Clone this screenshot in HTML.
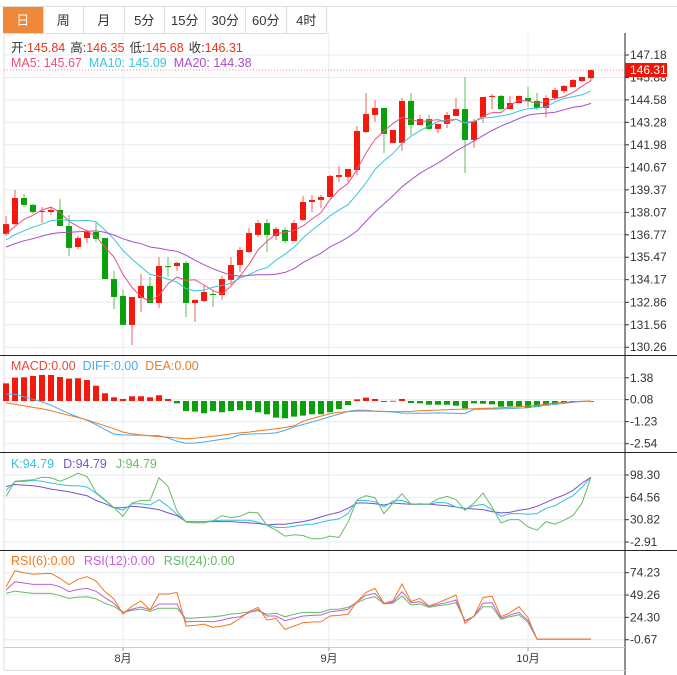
<!DOCTYPE html>
<html><head><meta charset="utf-8"><style>
body{margin:0;background:#fff;font-family:"Liberation Sans","Noto Sans CJK SC",sans-serif;}
#wrap{position:relative;width:677px;height:675px;overflow:hidden;background:#fff}
.tabs{position:absolute;left:3px;top:6px;height:27px;display:flex;border-top:1px solid #ddd;}
.tab{width:40px;height:27px;line-height:27px;text-align:center;font-size:13px;color:#333;border-right:1px solid #ddd;border-bottom:1px solid #ddd;box-sizing:border-box;width:40.5px}
.tab.on{background:#f0883a;color:#fff}
svg{position:absolute;left:0;top:0}
</style></head><body>
<div id="wrap">
<div style="position:absolute;left:0;top:6px;width:677px;border-top:1px solid #e2e2e2"></div>
<div class="tabs">
<div class="tab on">日</div>
<div class="tab">周</div>
<div class="tab">月</div>
<div class="tab">5分</div>
<div class="tab">15分</div>
<div class="tab">30分</div>
<div class="tab">60分</div>
<div class="tab">4时</div>
</div>
<svg id="chart" width="677" height="675"></svg>
</div>
<script>
const opens=[136.82,137.39,138.90,138.50,138.09,138.09,138.21,137.28,136.06,136.58,136.93,136.58,134.21,133.23,131.55,133.11,133.81,132.82,134.96,134.96,135.14,132.82,132.94,133.34,133.28,134.16,135.02,135.77,136.76,137.45,136.70,137.05,136.41,137.63,138.67,138.79,138.96,140.12,140.12,140.52,142.72,143.71,144.11,142.09,142.09,144.52,143.13,143.47,142.90,143.19,143.65,144.05,142.26,143.59,144.75,144.81,144.05,144.40,144.69,144.52,144.11,144.69,145.10,145.33,145.67,145.84];
const closes=[137.39,138.90,138.50,138.09,138.15,138.21,137.28,136.01,136.58,136.93,136.53,134.21,133.17,131.55,133.17,133.81,132.82,134.96,134.90,135.14,132.82,133.00,133.46,133.28,134.21,135.02,135.89,136.87,137.45,136.76,137.11,136.41,137.45,138.67,138.79,138.96,140.17,140.23,140.58,142.78,143.76,144.11,142.61,142.84,144.52,143.13,143.47,142.90,143.19,143.71,144.05,142.26,143.36,144.75,144.81,144.05,144.40,144.81,144.52,144.11,144.69,145.15,145.39,145.73,145.91,146.31];
const highs=[137.86,139.36,139.13,138.55,138.38,138.38,138.84,137.92,136.70,137.05,137.45,136.58,134.67,133.57,133.17,134.50,134.33,135.48,135.48,135.19,135.25,133.00,133.85,133.57,134.40,135.48,136.06,137.16,137.63,137.68,137.22,137.22,137.63,139.02,139.07,139.07,140.23,140.75,140.58,143.07,144.98,144.57,144.11,142.84,144.69,144.98,143.71,143.71,143.19,143.88,144.69,145.91,143.47,144.75,144.92,144.86,144.81,144.81,145.33,144.98,144.86,145.27,145.44,145.79,145.91,146.35];
const lows=[136.70,137.34,138.38,137.97,137.45,137.92,137.28,135.54,135.95,136.29,136.35,134.21,132.47,131.55,130.39,132.30,132.82,132.53,134.33,134.67,132.01,131.72,132.88,132.59,133.00,133.85,134.61,135.72,136.64,135.77,136.47,136.29,136.41,137.57,138.09,138.32,138.96,139.83,139.83,140.23,142.66,143.30,141.51,142.09,141.62,142.55,143.13,142.84,142.66,142.95,143.65,140.35,141.80,143.24,144.05,143.99,144.05,144.40,144.17,143.99,143.59,144.57,144.98,145.33,145.62,145.68];
const preCloses=[135.0,135.3,135.6,135.2,135.5,135.9,135.6,136.0,136.4,136.1,135.8,136.3,136.0,136.4,136.2,136.6,136.5,136.9,136.6];
const priceTicks=[147.18,145.88,144.58,143.28,141.98,140.67,139.37,138.07,136.77,135.47,134.17,132.86,131.56,130.26];
const macdHist=[1.05,1.39,1.41,1.49,1.55,1.55,1.43,1.33,1.35,1.25,0.91,0.46,0.22,0.12,0.28,0.28,0.22,0.34,0.12,-0.14,-0.6,-0.63,-0.73,-0.6,-0.67,-0.6,-0.54,-0.54,-0.67,-0.79,-0.99,-1.03,-0.93,-0.87,-0.79,-0.79,-0.67,-0.48,-0.24,0.1,0.2,0.12,-0.06,0.01,0.12,-0.12,-0.14,-0.22,-0.22,-0.22,-0.28,-0.44,-0.14,-0.16,-0.2,-0.34,-0.32,-0.32,-0.4,-0.36,-0.28,-0.2,-0.12,-0.04,-0.02,0];
const diffVals=[0.40,0.40,0.25,0.10,-0.06,-0.25,-0.50,-0.75,-0.95,-1.15,-1.40,-1.70,-1.97,-2.02,-2.03,-2.04,-2.06,-2.06,-2.20,-2.40,-2.52,-2.50,-2.44,-2.36,-2.28,-2.20,-2.00,-1.97,-1.95,-1.94,-1.90,-1.75,-1.55,-1.40,-1.25,-1.10,-0.93,-0.78,-0.62,-0.54,-0.55,-0.60,-0.63,-0.65,-0.72,-0.73,-0.73,-0.72,-0.71,-0.72,-0.74,-0.75,-0.50,-0.48,-0.48,-0.47,-0.45,-0.42,-0.40,-0.33,-0.25,-0.20,-0.14,-0.08,-0.03,0.00];
const deaVals=[-0.10,-0.20,-0.28,-0.38,-0.46,-0.58,-0.72,-0.85,-0.98,-1.12,-1.30,-1.48,-1.65,-1.85,-1.95,-2.02,-2.08,-2.12,-2.15,-2.20,-2.25,-2.22,-2.16,-2.10,-2.03,-1.96,-1.90,-1.85,-1.78,-1.72,-1.65,-1.58,-1.48,-1.20,-1.05,-0.90,-0.75,-0.68,-0.63,-0.60,-0.60,-0.61,-0.62,-0.63,-0.63,-0.62,-0.58,-0.56,-0.54,-0.52,-0.50,-0.48,-0.46,-0.44,-0.42,-0.40,-0.37,-0.34,-0.30,-0.25,-0.19,-0.13,-0.08,-0.04,-0.01,0];
const macdTicks=[1.38,0.08,-1.23,-2.54];
const kVals=[75,88,89,90,89,86,84,82,82,80,71,60,49,45,55,55,53,61,51,39,28,28,28,29,30,30,30,30,27,23,19,19,21,23,24,27,30,32,40,60,60,58,50,59,60,55,54,54,57,56,50,47,52,54,46,36,40,40,39,40,48,52,60,67,80,95];
const dVals=[81,84,83,82,80,77,75,73,70,67,60,55,49,49,51,50,48,46,41,37,28,28,28,28,28,28,27,26,25,23,24,24,26,28,31,35,39,42,48,56,56,55,53,56,55,54,54,54,53,52,50,48,47,46,43,41,42,45,47,51,57,63,68,75,86,95];
const jVals=[66,89,90,91,95,94,89,94,101,96,72,61,49,36,56,60,60,94,81,44,27,26,26,29,37,34,36,42,41,22,15,6,8,7,2,2,6,4,27,61,67,64,40,56,70,54,55,54,62,66,61,45,56,71,50,26,31,31,20,15,28,24,30,37,56,95];
const kdjTicks=[98.30,64.56,30.82,-2.91];
const rsi6=[58.6,76.5,74.2,72.4,73.1,73.5,67.9,60.8,66.8,69.8,64.9,53.0,44.8,28.0,37.0,42.6,32.5,50.4,50.4,52.2,14.6,15.3,16.8,13.1,14.6,16.8,23.2,30.6,35.5,21.3,23.2,10.9,14.6,18.3,19.1,19.4,25.8,26.5,28.0,41.8,52.2,56.7,39.9,42.9,61.6,42.2,45.5,37.0,40.7,44.8,49.3,17.6,25.8,46.3,48.1,25.0,29.5,36.2,23.9,0,0,0,0,0,0,0];
const rsi12=[54.9,64.2,62.7,61.2,61.2,61.2,58.6,53.0,55.6,56.7,53.4,46.3,39.9,29.9,33.6,35.9,32.5,39.2,39.2,39.2,19.4,19.8,19.8,19.4,21.3,23.6,25.0,29.5,33.2,25.8,25.8,20.6,23.2,25.8,26.5,26.9,30.6,31.7,33.2,41.8,48.9,51.1,39.9,41.4,53.0,40.7,41.8,36.6,38.8,40.7,43.7,20.2,25.4,39.9,40.7,23.2,26.9,29.9,20.6,0,0,0,0,0,0,0];
const rsi24=[51.1,53.7,52.2,51.1,51.1,51.1,48.5,45.5,47.0,47.4,45.2,39.9,36.6,29.9,32.1,33.6,31.0,34.4,34.4,34.4,23.2,23.6,24.3,25.0,26.2,28.0,28.8,30.3,31.7,27.7,28.8,25.0,27.7,29.9,29.9,29.9,33.2,33.6,35.5,40.7,45.2,47.4,39.2,40.3,48.1,38.1,39.2,35.5,37.3,38.5,40.7,20.6,25.4,36.2,36.2,22.1,25.0,27.3,18.7,0,0,0,0,0,0,0];
const rsiTicks=[74.23,49.26,24.30,-0.67];
const monthLabels=["8月","9月","10月"];
const monthIdx=[13,36,58];

const svg=document.getElementById('chart');
const NS='http://www.w3.org/2000/svg';
function mk(tag,attrs,parent){const e=document.createElementNS(NS,tag);for(const k in attrs)e.setAttribute(k,attrs[k]);(parent||svg).appendChild(e);return e;}
const xOf=i=>6+9*i;
const yP=p=>55+(147.18-p)*17.27;
const yM=v=>401-v*16.8;
const yK=v=>475+(98.30-v)*0.6623;
const yR=v=>572.7+(74.23-v)*0.8947;
const AX=625;

// grid
function hgrid(ticks,yf,name){ticks.forEach(t=>{const l=mk('line',{x1:4,x2:AX,y1:yf(t),y2:yf(t),stroke:'#e6edf1','stroke-width':1});


const tk=mk('line',{x1:AX,x2:AX+4,y1:yf(t),y2:yf(t),stroke:'#333'});


const tx=mk('text',{x:AX+5,y:yf(t)+4,'font-size':12,fill:'#333'});tx.textContent=t.toFixed(2);

});}
hgrid(priceTicks,yP,'price');hgrid(macdTicks,yM,'macd');hgrid(kdjTicks,yK,'kdj');hgrid(rsiTicks,yR,'rsi');
monthIdx.forEach((mi,k)=>{const x=[123,329,528][k];
const v=mk('line',{x1:x,x2:x,y1:33,y2:647,stroke:'#e6edf1'});


const t=mk('text',{x:x,y:662,'font-size':11,fill:'#333','text-anchor':'middle'});t.textContent=monthLabels[k];


mk('line',{x1:x,x2:x,y1:647,y2:651,stroke:'#999'});});
// frame lines
[[4,33,4,670,'#ddd'],[AX,33,AX,675,'#222'],[0,355.5,677,355.5,'#222'],[0,452.5,677,452.5,'#222'],[0,550.5,677,550.5,'#222'],[4,647.5,AX,647.5,'#ccc'],[4,670.5,AX,670.5,'#ddd']].forEach(a=>{mk('line',{x1:a[0],y1:a[1],x2:a[2],y2:a[3],stroke:a[4]});});

// MA lines
const allC=preCloses.concat(closes);
function ma(n){const r=[];for(let i=0;i<closes.length;i++){const j=i+preCloses.length;let s=0;for(let k=j-n+1;k<=j;k++)s+=allC[k];r.push(s/n);}return r;}
function poly(vals,yf,color,name,w){const pts=vals.map((v,i)=>xOf(i)+','+yf(v).toFixed(1)).join(' ');const p=mk('polyline',{points:pts,fill:'none',stroke:color,'stroke-width':w||1});

return p;}

// candles
const cg=mk('g',{});


for(let i=0;i<opens.length;i++){const up=closes[i]>=opens[i];const col=up?'#f5180c':'#0aa00a';const wc=up?'#f0605a':'#5cc05c';const x=xOf(i);
const w=mk('line',{x1:x,x2:x,y1:yP(highs[i]),y2:yP(lows[i]),stroke:wc,'stroke-width':1},cg);


const t=Math.min(yP(opens[i]),yP(closes[i]));const h=Math.max(1,Math.abs(yP(opens[i])-yP(closes[i])));
const b=mk('rect',{x:x-3,y:t,width:6,height:h,fill:col},cg);

}
poly(ma(5),yP,'#ee4f7c','ma5-line');poly(ma(10),yP,'#3cc4dc','ma10-line');poly(ma(20),yP,'#a84fc8','ma20-line');
// last price
const lp=closes[closes.length-1];
const dl=mk('line',{x1:4,x2:AX,y1:yP(lp),y2:yP(lp),stroke:'#f08a8a','stroke-dasharray':'1,2'});


const lb=mk('rect',{x:AX,y:yP(lp)-7,width:42,height:14,fill:'#f01406'});


const lt=mk('text',{x:AX+5,y:yP(lp)+4,'font-size':12,fill:'#fff'});lt.textContent=lp.toFixed(2);



// MACD
for(let i=0;i<macdHist.length;i++){const v=macdHist[i];const y0=yM(0),y1=yM(v);
const r=mk('rect',{x:xOf(i)-3,y:Math.min(y0,y1),width:6,height:Math.max(0.8,Math.abs(y1-y0)),fill:v>=0?'#f5180c':'#0aa00a'});

}
poly(diffVals,yM,'#4aa8f0','diff-line');poly(deaVals,yM,'#f07a20','dea-line');
// KDJ
poly(dVals,yK,'#7a50d0','kdj-d-line');poly(kVals,yK,'#36c0dc','kdj-k-line');poly(jVals,yK,'#66bb66','kdj-j-line');
// RSI
poly(rsi24,yR,'#66bb66','rsi24-line');poly(rsi12,yR,'#c060d8','rsi12-line');poly(rsi6,yR,'#f07a20','rsi6-line');

// headers
function hdr(y,parts,name){const t=mk('text',{x:11,y:y,'font-size':12.5});

parts.forEach(p=>{const s=mk('tspan',{fill:p[1]},t);if(p[2])s.setAttribute('dx',p[2]);s.textContent=p[0];});}
hdr(52,[['开:','#333'],['145.84','#e8341c'],['高:','#333',5],['146.35','#e8341c'],['低:','#333',5],['145.68','#e8341c'],['收:','#333',5],['146.31','#e8341c']],'ohlc-header');
hdr(67,[['MA5: 145.67','#ee4f7c'],['MA10: 145.09','#3cc4dc',7],['MA20: 144.38','#a84fc8',7]],'ma-legend');
hdr(370,[['MACD:0.00','#e8483c'],['DIFF:0.00','#4aa8f0',7],['DEA:0.00','#f07a20',7]],'macd-legend');
hdr(468,[['K:94.79','#36c0dc'],['D:94.79','#7a50d0',9],['J:94.79','#66bb66',9]],'kdj-legend');
hdr(565,[['RSI(6):0.00','#f07a20'],['RSI(12):0.00','#c060d8',9],['RSI(24):0.00','#66bb66',9]],'rsi-legend');
</script>
</body></html>
